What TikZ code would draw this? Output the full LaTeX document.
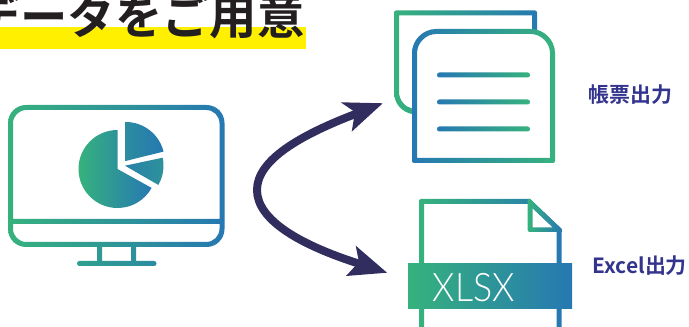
\documentclass[tikz,border=0pt]{standalone}
\usepackage{fontspec}
\newfontfamily\jpfont{Noto Sans CJK JP Bold}
\newfontfamily\xlfont{Lato Light}
\definecolor{gg}{RGB}{54,178,125}
\definecolor{bb}{RGB}{38,120,178}
\definecolor{navy}{RGB}{49,45,94}
\definecolor{ink}{RGB}{35,31,32}
\definecolor{labelblue}{RGB}{51,52,142}
\definecolor{hiyellow}{RGB}{255,240,0}
\tikzset{
  gb/.style={left color=gg,right color=bb,even odd rule},
  bg/.style={left color=bb,right color=gg,even odd rule},
  headtip/.style={fill=navy,draw=none},
  curve/.style={draw=navy,line width=6pt},
  outlabel/.style={text=labelblue,font=\jpfont\fontsize{15.7pt}{16pt}\selectfont,inner sep=0pt}
}
\begin{document}
\begin{tikzpicture}[x=0.75pt,y=-0.75pt]
\useasboundingbox (0,0) rectangle (689,327);
\begin{scope}
\clip (0,0) rectangle (689,327);
% title
\fill[hiyellow] (0,27) rectangle (306,48.6);
\node[text=ink,font=\jpfont\fontsize{35.5pt}{36pt}\selectfont,inner sep=0pt] (title) at (139,16) {データをご用意};
% monitor
\shade[gb]
  [rounded corners=13.5pt] (8,105) -- (224.5,105) -- (224.5,247) -- (8,247) -- cycle
  [rounded corners=10pt] (13,219) [sharp corners] -- (13,123) [rounded corners=10pt] -- (13,110) -- (219.5,110) -- (219.5,123) [sharp corners] -- (219.5,219) -- cycle
  [sharp corners] (13,224) -- (219.5,224) -- (219.5,230) [rounded corners=10pt] -- (219.5,242) -- (13,242) -- (13,230) [sharp corners] -- cycle
  (97,247) rectangle (102,261)
  (131,247) rectangle (136,261)
  [rounded corners=1.8pt] (77,261) -- (156.5,261) -- (156.5,266) -- (77,266) -- cycle;
% pie
\shade[left color=gg,right color=bb] (117.5,169) -- ++(0,-39) arc[start angle=-90,end angle=-331,radius=39] -- cycle;
\shade[left color=gg!35!bb,right color=bb] (125.7,161) -- ++(0,-39) arc[start angle=-90,end angle=-14,radius=39] -- cycle;
\shade[left color=bb!85!gg,right color=gg!45!bb] (125,165.7) -- ++(-12:38.5) arc[start angle=-12,end angle=30,radius=38.5] -- cycle;
% back sheet
\shade[gb] (412,114) .. controls (402,112) and (394,104) .. (394,92) [rounded corners=1.5pt] -- (394,10.5) -- (537,10.5) [sharp corners] -- (537,30) -- (532,30) -- (532,15.5) -- (399,15.5) -- (399,92) .. controls (399,100) and (405,107) .. (412,108.5) -- cycle;
% front sheet
\fill[white] (412,50) rectangle (555,163);
\shade[bg]
  (412,53) .. controls (412,40) and (423,29) .. (436,29) -- (531,29) .. controls (544,29) and (555,40) .. (555,53) [rounded corners=1.5pt] -- (555,163) -- (412,163) [sharp corners] -- cycle
  (417,53) -- (417,158) -- (550,158) -- (550,53) .. controls (550,43) and (541,34) .. (531,34) -- (436,34) .. controls (426,34) and (417,43) .. (417,53) -- cycle;
\shade[bg,rounded corners=1.8pt] (437,72.5) -- (530,72.5) -- (530,77.5) -- (437,77.5) -- cycle;
\shade[bg,rounded corners=1.8pt] (437,99.5) -- (530,99.5) -- (530,104.5) -- (437,104.5) -- cycle;
\shade[bg,rounded corners=1.8pt] (437,126.5) -- (530,126.5) -- (530,131.5) -- (437,131.5) -- cycle;
\node[outlabel,anchor=west] (lab1) at (588.5,95) {帳票出力};
% file
\shade[gb] (419,327) [rounded corners=1.5pt] -- (419,199) [sharp corners] -- (530,199) -- (561.7,229) -- (561.7,327) -- (556.7,327) -- (556.7,231) -- (528,204) -- (424,204) -- (424,327) -- cycle;
\shade[gb] (530,199) -- (561.7,229) -- (561.7,232) [rounded corners=1.5pt] -- (527.7,232) [sharp corners] -- (527.7,199) -- cycle
  (532.7,208) -- (532.7,227.5) -- (553,227.5) -- cycle;
\shade[gb] (408,264) rectangle (572,308.7);
\node[text=white,font=\xlfont\fontsize{29.5pt}{30pt}\selectfont,inner sep=0pt,anchor=west,xscale=0.91] (xlsx) at (432.5,287.5) {XLSX};
\node[outlabel,anchor=west] (lab2) at (592.5,266) {Excel出力};
% arrows
\coordinate (up) at (358,113);
\coordinate (low) at (360,264);
\coordinate (bend) at (257,190);
\draw[curve] (up) .. controls (300,135) and (257,160) .. (bend) .. controls (257,220) and (300,245) .. (low);
\fill[headtip] (382.7,103.3) -- (340.7,102.3) -- (355,112) -- (351.7,131.7) -- cycle;
\fill[headtip] (387,272.7) -- (355.7,245.7) -- (359,262) -- (346,276) -- cycle;
\end{scope}
\end{tikzpicture}
\end{document}
